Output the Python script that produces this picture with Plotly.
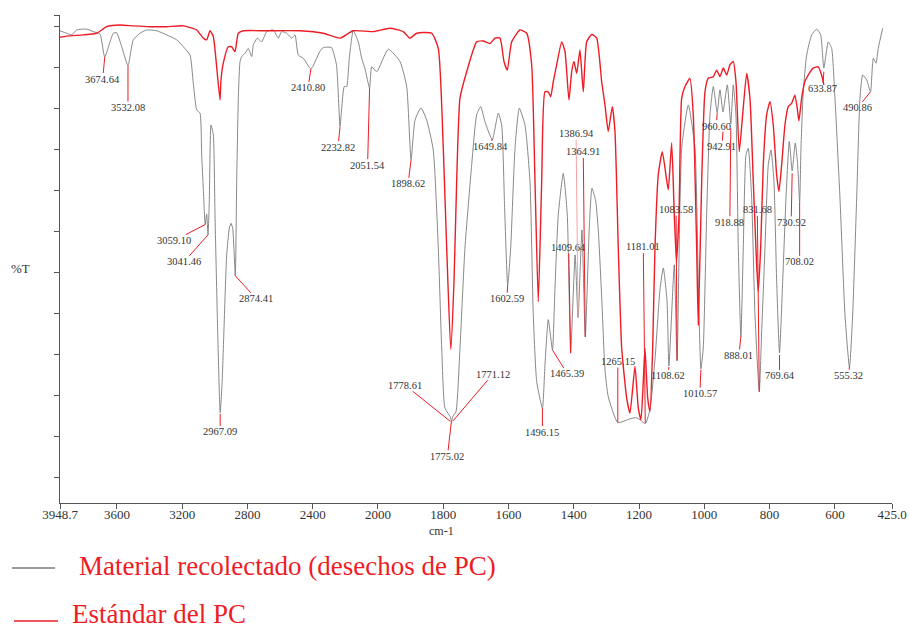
import plotly.graph_objects as go

# ---------------- data (wavenumber cm-1, %T) ----------------
gray_w = [3948.7, 3907.6, 3877.0, 3846.4, 3785.1, 3744.6, 3703.6, 3674.64, 3622.1, 3601.2, 3570.6, 3532.08,
          3499.5, 3458.5, 3417.4, 3356.1, 3294.9, 3233.6, 3193.1, 3152.1, 3131.9, 3110.9, 3090.8, 3080.3,
          3070.6, 3059.10, 3050.0, 3041.46, 3033.8, 3023.4, 3009.1, 2998.9, 2984.8, 2967.09, 2955.0, 2944.0,
          2927.2, 2911.2, 2900.8, 2890.4, 2874.41, 2865.9, 2856.0, 2845.7, 2835.3, 2815.0, 2794.8, 2774.0,
          2764.2, 2739.6, 2712.7, 2682.1, 2641.6, 2611.0, 2590.1, 2559.5, 2528.8, 2508.6, 2488.4, 2457.6,
          2410.80, 2356.8, 2336.0, 2285.2, 2254.5, 2232.82, 2222.5, 2206.6, 2191.9, 2176.0, 2151.5, 2120.9,
          2100.0, 2079.8, 2051.54, 2038.6, 2008.0, 1968.4, 1932.6, 1912.1, 1898.62, 1886.6, 1868.2, 1850.8,
          1830.6, 1815.2, 1804.8, 1794.7, 1778.61, 1775.02, 1771.12, 1761.0, 1748.8, 1733.5, 1712.9, 1697.6,
          1685.3, 1672.2, 1649.84, 1631.4, 1621.0, 1612.0, 1602.59, 1593.4, 1580.2, 1567.1, 1549.6, 1534.3,
          1524.2, 1513.7, 1496.15, 1488.3, 1478.2, 1465.39, 1457.7, 1447.6, 1432.2, 1420.0, 1409.64, 1396.0,
          1386.94, 1375.0, 1364.91, 1352.0, 1344.3, 1333.0, 1325.0, 1314.6, 1304.5, 1294.4, 1265.15, 1227.9,
          1210.0, 1197.2, 1181.01, 1166.6, 1151.3, 1136.0, 1125.8, 1114.5, 1108.62, 1092.1, 1083.58, 1069.5,
          1049.2, 1028.7, 1018.6, 1010.57, 1003.3, 992.9, 982.8, 972.6, 960.60, 952.1, 942.91, 929.7,
          918.88, 911.4, 903.1, 896.0, 888.01, 880.7, 872.4, 865.4, 855.0, 844.9, 831.68, 824.3,
          814.2, 804.1, 795.8, 786.7, 778.4, 769.64, 760.0, 749.9, 739.8, 730.92, 721.4, 714.0,
          708.02, 703.9, 696.9, 686.5, 671.1, 655.8, 643.6, 633.87, 620.3, 609.9, 599.8, 584.4,
          569.1, 555.32, 545.5, 533.3, 523.2, 514.9, 502.6, 490.86, 482.4, 474.1, 467.1, 453.6]
gray_t = [109.0, 108.4, 108.0, 109.2, 109.4, 108.8, 108.2, 102.6, 108.4, 108.5, 105.1, 100.5,
          106.8, 108.4, 109.2, 109.0, 108.0, 106.8, 105.1, 103.1, 96.2, 89.7, 88.9, 78.7,
          70.6, 61.7, 64.3, 59.2, 67.3, 86.0, 83.6, 64.1, 39.7, 15.8, 23.4, 36.0,
          54.3, 60.8, 62.0, 60.8, 49.2, 72.2, 92.5, 101.4, 102.7, 103.5, 104.7, 102.7,
          105.5, 107.2, 106.3, 108.8, 109.2, 107.2, 108.8, 108.4, 107.2, 108.0, 103.1, 102.3,
          99.7, 103.9, 104.9, 104.9, 100.7, 85.6, 90.1, 95.4, 95.4, 102.3, 109.0, 106.3,
          102.3, 99.8, 95.0, 100.2, 99.0, 104.5, 101.5, 95.4, 77.5, 87.2, 90.2, 87.2,
          79.9, 56.0, 31.6, 16.9, 14.8, 13.7, 14.8, 16.1, 31.6, 56.0, 76.3, 88.5,
          90.5, 86.8, 82.4, 88.9, 86.0, 65.8, 46.8, 56.0, 80.3, 90.1, 86.0, 72.2,
          39.7, 23.4, 16.9, 27.5, 38.5, 31.1, 46.2, 64.1, 74.2, 64.1, 30.4, 54.3,
          39.0, 60.4, 34.3, 62.0, 70.6, 67.5, 60.4, 44.1, 26.3, 19.7, 13.4, 14.3,
          14.6, 14.1, 13.1, 16.5, 28.7, 45.8, 51.1, 43.3, 27.2, 51.9, 28.5, 80.3,
          90.9, 80.3, 47.8, 26.5, 31.6, 64.1, 88.4, 95.4, 89.0, 94.6, 89.2, 95.8,
          86.3, 95.8, 88.4, 56.0, 34.3, 56.0, 78.7, 80.3, 68.1, 39.7, 20.9, 35.6,
          56.0, 76.3, 79.9, 72.2, 47.8, 30.4, 47.8, 68.1, 82.0, 74.8, 81.6, 76.3,
          67.0, 80.3, 94.1, 103.1, 108.0, 109.4, 108.0, 99.9, 106.3, 104.7, 92.5, 68.1,
          39.7, 26.8, 39.7, 68.1, 92.5, 98.2, 97.0, 94.1, 102.3, 101.1, 104.7, 109.6]

red_w = [3948.7, 3907.6, 3805.9, 3723.8, 3662.5, 3581.0, 3499.5, 3397.2, 3294.9, 3193.1, 3110.9, 3070.6,
         3049.7, 3029.5, 3009.1, 2992.7, 2968.0, 2962.1, 2948.0, 2917.3, 2896.5, 2876.3, 2856.0, 2825.4,
         2682.1, 2477.6, 2335.2, 2233.5, 2152.0, 2029.5, 1963.2, 1922.5, 1902.0, 1881.4, 1835.5, 1815.2,
         1799.9, 1789.5, 1777.0, 1767.1, 1758.9, 1748.8, 1728.2, 1697.6, 1677.4, 1656.8, 1641.5, 1626.2,
         1613.9, 1603.8, 1590.3, 1564.9, 1544.4, 1529.1, 1518.9, 1508.8, 1498.4, 1488.3, 1478.2, 1470.8,
         1462.9, 1452.5, 1437.1, 1427.0, 1414.8, 1406.5, 1399.5, 1391.2, 1381.1, 1371.0, 1360.5, 1345.2,
         1329.9, 1314.6, 1304.5, 1294.4, 1282.1, 1273.8, 1263.7, 1253.3, 1238.0, 1227.9, 1212.5, 1202.4,
         1194.2, 1187.1, 1182.0, 1173.6, 1166.6, 1158.3, 1151.3, 1141.2, 1128.9, 1117.6, 1110.5, 1100.1,
         1092.1, 1085.4, 1077.7, 1069.5, 1059.4, 1044.1, 1033.9, 1023.5, 1018.6, 1008.2, 998.1, 988.0,
         972.6, 962.2, 952.1, 942.0, 931.6, 921.5, 911.4, 903.1, 893.0, 882.6, 870.3, 860.2,
         850.0, 839.7, 834.8, 827.4, 819.4, 809.1, 798.9, 788.8, 778.4, 771.4, 763.1, 753.0,
         742.9, 732.5, 722.5, 715.4, 710.2, 702.0, 691.9, 681.8, 666.4, 651.1, 640.7, 633.7]
red_t = [107.4, 107.7, 108.0, 108.4, 110.0, 110.4, 110.2, 110.0, 110.0, 110.2, 109.2, 107.2,
         106.8, 109.0, 107.6, 101.9, 92.1, 97.0, 101.1, 105.1, 105.1, 103.9, 108.4, 109.0,
         109.0, 109.0, 108.4, 107.2, 109.0, 108.8, 109.6, 108.8, 107.2, 108.4, 108.4, 104.7,
         80.3, 56.0, 31.2, 47.8, 72.2, 92.5, 99.0, 106.3, 106.5, 105.9, 107.2, 107.2,
         101.5, 99.4, 106.3, 109.2, 108.4, 100.7, 72.2, 42.9, 72.2, 94.1, 94.1, 92.9,
         96.6, 100.7, 106.3, 103.9, 92.1, 99.0, 101.5, 98.6, 104.3, 94.1, 106.3, 108.1,
         107.2, 96.6, 90.9, 84.4, 90.5, 84.4, 56.0, 31.6, 19.4, 15.7, 27.1, 16.9,
         14.1, 23.4, 31.6, 19.4, 16.1, 31.6, 56.0, 73.8, 79.5, 73.8, 70.2, 81.6,
         64.1, 52.6, 64.1, 92.5, 95.4, 97.4, 88.5, 56.0, 37.2, 72.2, 94.1, 97.4,
         97.8, 99.4, 97.8, 99.9, 98.2, 100.7, 101.5, 96.6, 79.5, 88.5, 98.6, 92.5,
         72.2, 51.9, 45.4, 56.0, 76.3, 88.5, 91.7, 86.0, 73.8, 69.8, 76.3, 86.0,
         90.5, 91.3, 93.3, 90.1, 87.0, 92.5, 96.6, 98.2, 99.9, 100.2, 98.2, 95.8]

# peak labels: text, tip wavenumber, tip %T
peak_text = ["3674.64", "3532.08", "3059.10", "3041.46", "2967.09", "2874.41", "2410.80", "2232.82",
             "2051.54", "1898.62", "1649.84", "1602.59", "1778.61", "1771.12", "1775.02", "1496.15",
             "1465.39", "1409.64", "1386.94", "1364.91", "1265.15", "1181.01", "1108.62", "1083.58",
             "1010.57", "960.60", "942.91", "918.88", "888.01", "831.68", "769.64", "730.92",
             "708.02", "633.87", "555.32", "490.86"]
peak_w = [3674.64, 3532.08, 3059.10, 3041.46, 2967.09, 2874.41, 2410.80, 2232.82,
          2051.54, 1898.62, 1649.84, 1602.59, 1778.61, 1771.12, 1775.02, 1496.15,
          1465.39, 1409.64, 1386.94, 1364.91, 1265.15, 1181.01, 1108.62, 1083.58,
          1010.57, 960.60, 942.91, 918.88, 888.01, 831.68, 769.64, 730.92,
          708.02, 633.87, 555.32, 490.86]
peak_t = [102.6, 100.5, 61.7, 59.2, 15.5, 49.2, 99.7, 85.5,
          95.0, 77.5, 82.6, 46.8, 13.7, 13.7, 13.7, 16.9,
          31.1, 30.3, 39.0, 34.3, 13.4, 13.3, 27.0, 28.5,
          26.3, 88.9, 84.4, 85.2, 34.4, 20.9, 29.9, 74.2,
          67.0, 99.0, 27.0, 94.1]
# label offsets from the tip (pixels)
label_dx = [-2, 0, -31, -24, 0, 21, -3, -2, -2, -3, -2, -1, -45, 40, -4, 0,
            15, -2, -2, -2, 0, -2, -1, -1, -1, -1, -1, -1, -2, -2, 0, -1,
            0, -1, -1, -13]
label_dy = [22, 42, 16, 27, 18, 23, 19, 20, 77, 24, 8, 13, -36, -47, 35, 24,
            24, -106, -184, -185, -61, -176, 9, -151, 24, 13, 15, 94, 19, -182, 21, 49,
            59, 17, 9, 16]

tick_w = [3948.7, 3600, 3200, 2800, 2400, 2000, 1800, 1600, 1400, 1200, 1000, 800, 600, 425.0]
tick_text = ["3948.7", "3600", "3200", "2800", "2400", "2000", "1800", "1600", "1400", "1200",
             "1000", "800", "600", "425.0"]

series_names = ["Material recolectado (desechos de PC)", "Estándar del PC"]

# ---------------- axis transform (scale doubles below 2000 cm-1) ----------------
W_MAX, W_BREAK, W_MIN = 3948.7, 2000.0, 425.0


def to_u(w):
    if w >= W_BREAK:
        return W_MAX - w
    return (W_MAX - W_BREAK) + 2.0 * (W_BREAK - w)


U_MAX = to_u(W_MIN)

GRAY = "#7a7a7a"
RED = "#ee1c25"
PALE_RED = "#f5a3a6"
FONT = "Liberation Serif"

fig = go.Figure()
fig.add_trace(go.Scatter(x=[to_u(w) for w in gray_w], y=gray_t, mode="lines",
                         name=series_names[0],
                         line=dict(color=GRAY, width=0.9, shape="spline", smoothing=0.5),
                         showlegend=False, hoverinfo="skip"))
fig.add_trace(go.Scatter(x=[to_u(w) for w in red_w], y=red_t, mode="lines",
                         name=series_names[1],
                         line=dict(color=RED, width=1.4, shape="spline", smoothing=0.5),
                         showlegend=False, hoverinfo="skip"))

annotations = []
for txt, w, t, dx, dy in zip(peak_text, peak_w, peak_t, label_dx, label_dy):
    annotations.append(dict(x=to_u(w), y=t, xref="x", yref="y", text=txt,
                            showarrow=True, arrowhead=0, arrowwidth=1,
                            arrowcolor=PALE_RED if txt == "1386.94" else RED,
                            ax=dx, ay=dy, standoff=0, startstandoff=0, borderpad=0,
                            font=dict(family=FONT, size=10.5, color="#333333")))

# axis titles
annotations.append(dict(x=(441 - 60) / 832, y=(503 - 531) / 488, xref="paper", yref="paper",
                        text="cm-1", showarrow=False, xanchor="center", yanchor="middle",
                        font=dict(family=FONT, size=12, color="#333333")))
annotations.append(dict(x=(20 - 60) / 832, y=(503 - 268) / 488, xref="paper", yref="paper",
                        text="%T", showarrow=False, xanchor="center", yanchor="middle",
                        font=dict(family=FONT, size=13, color="#333333")))

# legend (drawn below the plot)
leg_y = [-0.1332, -0.2418]
leg_x0 = [-0.0577, -0.0553]
leg_x1 = [-0.006, -0.0024]
leg_tx = [(77 - 60) / 832, (70 - 60) / 832]
leg_ty = [(503 - 566) / 488, (503 - 614) / 488]
leg_col = [GRAY, RED]
shapes = []
for i in range(2):
    shapes.append(dict(type="line", xref="paper", yref="paper", x0=leg_x0[i], x1=leg_x1[i],
                       y0=leg_y[i], y1=leg_y[i], line=dict(color=leg_col[i], width=1.3)))
    annotations.append(dict(x=leg_tx[i], y=leg_ty[i], xref="paper", yref="paper",
                            text=series_names[i], showarrow=False, xanchor="left", yanchor="middle",
                            font=dict(family=FONT, size=27, color=RED)))

fig.update_layout(
    width=909, height=628,
    margin=dict(l=60, r=17, t=15, b=125, autoexpand=False),
    paper_bgcolor="white", plot_bgcolor="white",
    showlegend=False,
    annotations=annotations, shapes=shapes,
    xaxis=dict(range=[0, U_MAX], tickvals=[to_u(w) for w in tick_w], ticktext=tick_text,
               showline=True, linecolor="#555555", linewidth=1, ticks="outside", ticklen=5,
               tickcolor="#555555", showgrid=False, zeroline=False, automargin=False,
               ticklabelstandoff=-6,
               tickfont=dict(family=FONT, size=13, color="#333333")),
    yaxis=dict(range=[-6.24, 112.85], tickvals=[0, 10, 20, 30, 40, 50, 60, 70, 80, 90, 100, 110, 112.85],
               showticklabels=False, showline=True, linecolor="#555555", linewidth=1, automargin=False,
               ticks="outside", ticklen=5, tickcolor="#555555", showgrid=False, zeroline=False),
)

fig.write_html("out.html")
